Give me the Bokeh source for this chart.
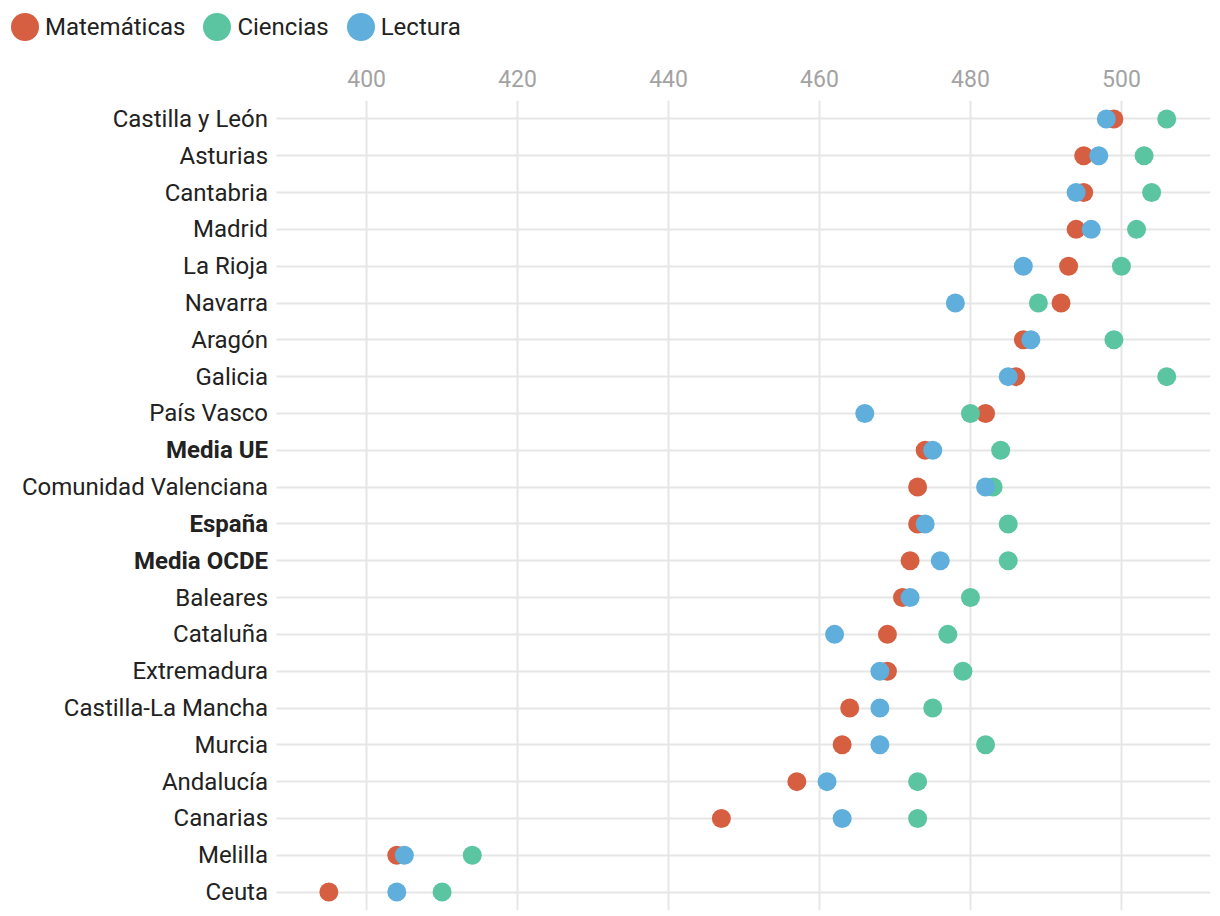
import math
from bokeh.plotting import figure
from bokeh.models import (Range1d, FactorRange, ColumnDataSource, FixedTicker,
                          Legend, LegendItem)
from bokeh.layouts import column
from bokeh.embed import file_html
from bokeh.resources import INLINE
from bokeh.core.properties import value

# ---------------- data ----------------
regions = ["Castilla y León", "Asturias", "Cantabria", "Madrid", "La Rioja", "Navarra",
           "Aragón", "Galicia", "País Vasco", "Media UE", "Comunidad Valenciana", "España",
           "Media OCDE", "Baleares", "Cataluña", "Extremadura", "Castilla-La Mancha",
           "Murcia", "Andalucía", "Canarias", "Melilla", "Ceuta"]
matematicas = [499, 495, 495, 494, 493, 492, 487, 486, 482, 474, 473, 473,
               472, 471, 469, 469, 464, 463, 457, 447, 404, 395]
ciencias = [506, 503, 504, 502, 500, 489, 499, 506, 480, 484, 483, 485,
            485, 480, 477, 479, 475, 482, 473, 473, 414, 410]
lectura = [498, 497, 494, 496, 487, 478, 488, 485, 466, 475, 482, 474,
           476, 472, 462, 468, 468, 468, 461, 463, 405, 404]
bold_regions = ["Media UE", "España", "Media OCDE"]
series_names = ["Matemáticas", "Ciencias", "Lectura"]
series_cols = ["matematicas", "ciencias", "lectura"]
colors = ["#d65f41", "#5bc4a1", "#5faedb"]
x_ticks = [400, 420, 440, 460, 480, 500]

# view window (the left part of the frame holds the category labels)
x_lo, x_hi = 351.5, 511.8
grid_lo = 388          # where the plotting area / row lines begin

FONT = "Roboto"
GRID = "#e6e6e6"
TEXT = "#222222"

# ---------------- legend strip ----------------
leg = figure(width=1220, height=52, x_range=Range1d(0, 1), y_range=Range1d(0, 1),
             x_axis_location=None, y_axis_location=None,
             output_backend="svg", toolbar_location=None,
             min_border_left=0, min_border_right=10,
             min_border_top=0, min_border_bottom=0)
leg.outline_line_color = None
leg.xgrid.visible = False
leg.ygrid.visible = False

items = []
for name, color in zip(series_names, colors):
    # ellipse stand-ins (not drawn) give full-size round legend glyphs
    r = leg.ellipse(x=[math.nan], y=[math.nan], width=28, height=28,
                    width_units="screen", height_units="screen",
                    fill_color=color, line_color=None)
    items.append(LegendItem(label=name, renderers=[r]))

legend = Legend(items=items, orientation="horizontal",
                location=(7, 8), margin=0, padding=0, spacing=14,
                glyph_width=35, glyph_height=35, label_standoff=3,
                label_text_font=FONT, label_text_font_size="24px",
                label_text_color=TEXT, label_text_baseline="middle",
                border_line_color=None, background_fill_alpha=0)
leg.add_layout(legend)

# ---------------- main chart ----------------
src = ColumnDataSource(dict(region=regions, matematicas=matematicas,
                            ciencias=ciencias, lectura=lectura))

p = figure(width=1220, height=864,
           x_range=Range1d(x_lo, x_hi),
           y_range=FactorRange(factors=regions[::-1]),
           x_axis_location="above", y_axis_location=None,
           output_backend="svg", toolbar_location=None,
           min_border_left=0, min_border_right=10,
           min_border_top=48, min_border_bottom=6)
p.outline_line_color = None
p.background_fill_color = "white"
p.border_fill_color = "white"

ax = p.xaxis[0]
ax.ticker = FixedTicker(ticks=x_ticks)
ax.axis_line_color = None
ax.major_tick_line_color = None
ax.minor_tick_line_color = None
ax.major_tick_out = 0
ax.major_tick_in = 0
ax.major_label_standoff = 14
ax.major_label_text_color = "#a3a3a3"
ax.major_label_text_font = FONT
ax.major_label_text_font_size = "23px"

p.xgrid.ticker = FixedTicker(ticks=x_ticks)
p.xgrid.grid_line_color = GRID
p.xgrid.grid_line_width = 2
p.ygrid.grid_line_color = GRID
p.ygrid.grid_line_width = 2
try:
    p.ygrid.cross_bounds = (grid_lo, x_hi)
except Exception:
    p.ygrid.visible = False
    p.segment(x0=[grid_lo] * len(regions), x1=[x_hi] * len(regions),
              y0=regions, y1=regions, line_color=GRID, line_width=2)

normal = [r for r in regions if r not in bold_regions]
bold = [r for r in regions if r in bold_regions]
for names, style in ((normal, "normal"), (bold, "bold")):
    p.text(x=[grid_lo] * len(names), y=names, text=names, x_offset=-8,
           text_align="right", text_baseline="middle",
           text_font=value(FONT), text_font_size="24px",
           text_font_style=style, text_color=TEXT)

for col, color in zip(series_cols, colors):
    p.scatter(x=col, y="region", source=src, size=19, fill_color=color,
              line_color=None)

layout = column(leg, p, spacing=0)
open("out.html", "w").write(file_html(layout, INLINE))
